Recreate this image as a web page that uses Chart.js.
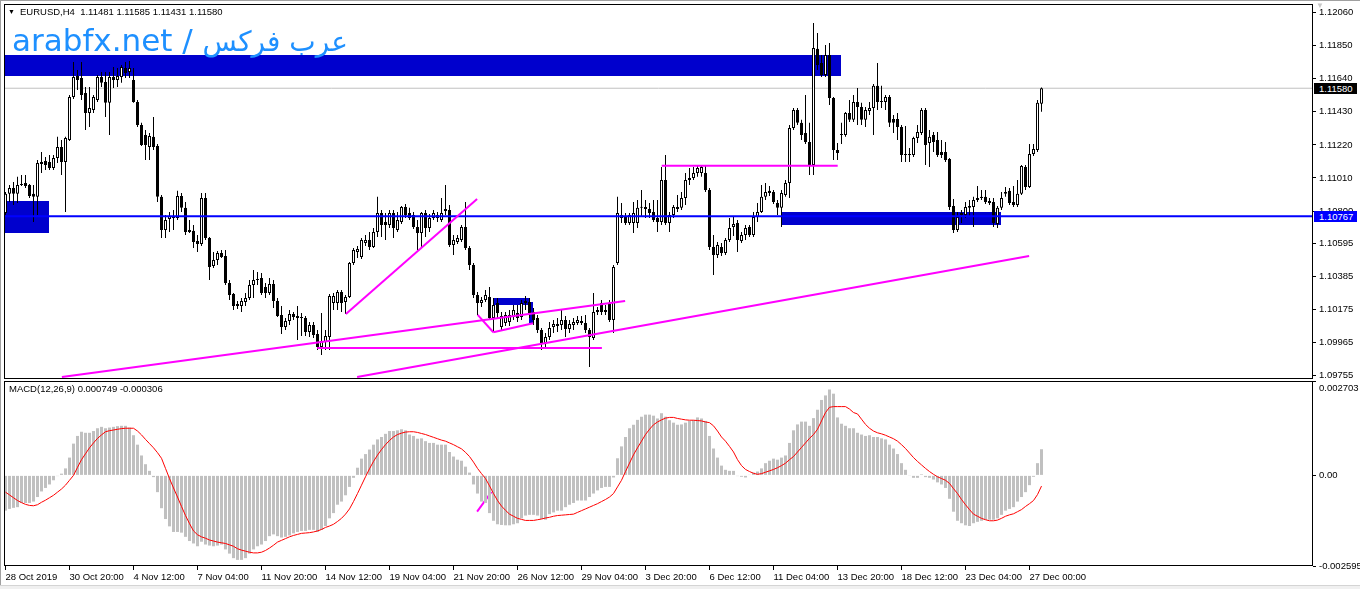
<!DOCTYPE html>
<html>
<head>
<meta charset="utf-8">
<title>EURUSD,H4</title>
<script src="https://cdn.jsdelivr.net/npm/chart.js@4.4.1/dist/chart.umd.min.js"></script>
<style>
  body { margin: 0; background: #fff; }
  #wrap { position: relative; width: 1360px; height: 589px; overflow: hidden; background: #fff; font-family: "Liberation Sans", Arial, sans-serif; }
  canvas { position: absolute; left: 0; }
  #priceChart { top: 0; }
  #macdChart { top: 380px; }
  .txt { position: absolute; white-space: pre; font-size: 9.5px; line-height: 11px; color: #000; }
  .box { position: absolute; left: 1314px; width: 38px; height: 11px; padding-left: 5px; font-size: 9.5px; line-height: 11px; color: #fff; white-space: pre; }
  #mark { position: absolute; left: 12px; top: 25px; font-family: "DejaVu Sans", sans-serif; font-size: 31px; line-height: 31px; color: #1e90ff; white-space: pre; }
  #mark span { font-size: 28px; }
</style>
</head>
<body>
<div id="wrap">
  <canvas id="priceChart" width="1360" height="381"></canvas>
  <canvas id="macdChart" width="1360" height="209"></canvas>
  <div style="position:absolute;left:0;top:0;width:1360px;height:1px;background:#a0a0a0"></div>
  <div style="position:absolute;left:0;top:0;width:1px;height:589px;background:#a0a0a0"></div>
  <div style="position:absolute;left:0;top:585px;width:1360px;height:4px;background:#f0f0f0;border-top:1px solid #d4d4d4"></div>
  <div class="txt" style="left:8px;top:6px;font-size:7px">▼</div>
  <div class="txt" style="left:20px;top:6px">EURUSD,H4  1.11481 1.11585 1.11431 1.11580</div>
  <div class="txt" style="left:1316px;top:0px;font-size:8px;color:#c8c8c8">▼</div>
  <div id="mark">arabfx.net / <span>عرب فركس</span></div>
  <div class="txt" style="left:9px;top:383px">MACD(12,26,9) 0.000749 -0.000306</div>
  <div class="box" id="boxLast" style="background:#000">1.11580</div>
  <div class="box" id="boxLevel" style="background:#0000ff">1.10767</div>
</div>

<script>
// H4 bars, 28 Oct 2019 -> 27 Dec 2019 12:00 (bar index 0..259)
const open = [1.10788,1.10909,1.10946,1.10909,1.10972,1.10978,1.10965,1.10909,1.10890,1.11111,
1.11118,1.11111,1.11073,1.11137,1.11207,1.11111,1.11251,1.11525,1.11658,1.11645,
1.11550,1.11423,1.11442,1.11506,1.11652,1.11620,1.11487,1.11652,1.11633,1.11652,
1.11709,1.11683,1.11633,1.11493,1.11347,1.11283,1.11207,1.11271,1.11213,1.10890,
1.10680,1.10750,1.10756,1.10756,1.10896,1.10820,1.10680,1.10674,1.10610,1.10591,
1.10883,1.10629,1.10451,1.10489,1.10534,1.10515,1.10343,1.10273,1.10210,1.10197,
1.10222,1.10248,1.10330,1.10368,1.10374,1.10318,1.10279,1.10337,1.10229,1.10140,
1.10063,1.10101,1.10146,1.10133,1.10127,1.10120,1.10032,1.10076,1.10019,1.09936,
1.09968,1.10000,1.10216,1.10216,1.10286,1.10222,1.10254,1.10470,1.10540,1.10508,
1.10597,1.10616,1.10572,1.10667,1.10788,1.10730,1.10711,1.10788,1.10680,1.10730,
1.10826,1.10788,1.10775,1.10699,1.10661,1.10788,1.10692,1.10756,1.10756,1.10743,
1.10813,1.10807,1.10584,1.10603,1.10616,1.10699,1.10565,1.10457,1.10267,1.10216,
1.10235,1.10254,1.10120,1.10216,1.10063,1.10089,1.10095,1.10127,1.10152,1.10127,
1.10229,1.10222,1.10159,1.10120,1.10044,1.09962,1.10000,1.10063,1.10082,1.10076,
1.10108,1.10051,1.10076,1.10089,1.10089,1.10089,1.10044,1.09994,1.10159,1.10216,
1.10171,1.10216,1.10108,1.10470,1.10775,1.10762,1.10724,1.10724,1.10724,1.10826,
1.10826,1.10813,1.10794,1.10756,1.10730,1.10997,1.10724,1.10775,1.10826,1.10820,
1.10883,1.10997,1.11010,1.11042,1.11042,1.11042,1.10934,1.10572,1.10521,1.10572,
1.10534,1.10616,1.10699,1.10724,1.10610,1.10648,1.10699,1.10648,1.10762,1.10794,
1.10890,1.10928,1.10921,1.10851,1.10820,1.10902,1.10978,1.11328,1.11442,1.11360,
1.11296,1.11239,1.11092,1.11830,1.11741,1.11664,1.11791,1.11518,1.11188,1.11290,
1.11283,1.11423,1.11379,1.11493,1.11461,1.11379,1.11436,1.11455,1.11595,1.11499,
1.11493,1.11525,1.11385,1.11385,1.11334,1.11162,1.11156,1.11156,1.11264,1.11296,
1.11442,1.11232,1.11283,1.11251,1.11175,1.11175,1.11131,1.10832,1.10680,1.10775,
1.10775,1.10820,1.10826,1.10870,1.10883,1.10890,1.10864,1.10857,1.10718,1.10820,
1.10909,1.10928,1.10857,1.10838,1.10909,1.11080,1.10953,1.11162,1.11188,1.11481];

const high = [1.10921,1.10965,1.10984,1.11017,1.11029,1.11029,1.10972,1.10965,1.11124,1.11175,
1.11143,1.11156,1.11156,1.11271,1.11251,1.11271,1.11537,1.11747,1.11696,1.11747,
1.11588,1.11588,1.11537,1.11664,1.11683,1.11683,1.11683,1.11715,1.11709,1.11728,
1.11747,1.11753,1.11709,1.11506,1.11360,1.11315,1.11296,1.11398,1.11226,1.10902,
1.10775,1.10794,1.10807,1.10928,1.10915,1.10857,1.10743,1.10711,1.10648,1.10915,
1.10915,1.10635,1.10540,1.10546,1.10553,1.10553,1.10362,1.10279,1.10229,1.10248,
1.10279,1.10362,1.10425,1.10412,1.10406,1.10343,1.10374,1.10362,1.10248,1.10197,
1.10120,1.10171,1.10159,1.10197,1.10152,1.10133,1.10095,1.10095,1.10044,1.10152,
1.10044,1.10273,1.10279,1.10298,1.10298,1.10267,1.10476,1.10565,1.10578,1.10629,
1.10648,1.10667,1.10692,1.10890,1.10807,1.10788,1.10807,1.10807,1.10794,1.10832,
1.10845,1.10820,1.10794,1.10743,1.10794,1.10807,1.10781,1.10807,1.10794,1.10883,
1.10965,1.10838,1.10648,1.10648,1.10711,1.10857,1.10578,1.10470,1.10286,1.10254,
1.10298,1.10318,1.10248,1.10248,1.10159,1.10159,1.10171,1.10203,1.10203,1.10235,
1.10260,1.10248,1.10184,1.10140,1.10057,1.10025,1.10095,1.10108,1.10120,1.10171,
1.10133,1.10108,1.10120,1.10133,1.10133,1.10140,1.10057,1.10279,1.10190,1.10235,
1.10203,1.10235,1.10457,1.10890,1.10851,1.10788,1.10788,1.10857,1.10870,1.10934,
1.10870,1.10851,1.10870,1.10870,1.11080,1.11156,1.10794,1.10838,1.10902,1.10921,
1.11042,1.11073,1.11080,1.11092,1.11092,1.11092,1.10946,1.10648,1.10603,1.10597,
1.10629,1.10756,1.10762,1.10743,1.10667,1.10711,1.10711,1.10794,1.10851,1.10965,
1.10978,1.10959,1.10934,1.10870,1.10934,1.10997,1.11347,1.11455,1.11455,1.11379,
1.11537,1.11360,1.11995,1.11931,1.11791,1.11855,1.11868,1.11525,1.11232,1.11360,
1.11429,1.11506,1.11537,1.11582,1.11487,1.11461,1.11493,1.11607,1.11741,1.11595,
1.11537,1.11537,1.11410,1.11423,1.11347,1.11340,1.11201,1.11271,1.11347,1.11455,
1.11455,1.11315,1.11302,1.11302,1.11251,1.11239,1.11137,1.10877,1.10794,1.10807,
1.10857,1.10870,1.10890,1.10959,1.10934,1.10934,1.10883,1.10883,1.10832,1.10921,
1.10953,1.10946,1.10959,1.10997,1.11092,1.11092,1.11226,1.11226,1.11506,1.11585];

const low = [1.10775,1.10857,1.10838,1.10851,1.10959,1.10946,1.10883,1.10730,1.10775,1.11042,
1.11061,1.11061,1.11061,1.11105,1.11029,1.10794,1.11245,1.11512,1.11569,1.11506,
1.11315,1.11334,1.11423,1.11493,1.11588,1.11398,1.11283,1.11582,1.11588,1.11614,
1.11645,1.11645,1.11487,1.11334,1.11213,1.11124,1.11124,1.11188,1.10857,1.10629,
1.10629,1.10667,1.10680,1.10743,1.10794,1.10648,1.10661,1.10565,1.10540,1.10578,
1.10616,1.10362,1.10438,1.10457,1.10502,1.10330,1.10235,1.10171,1.10178,1.10159,
1.10197,1.10235,1.10248,1.10330,1.10267,1.10248,1.10267,1.10184,1.10127,1.10019,
1.10044,1.10076,1.10108,1.09981,1.10006,1.10006,1.10000,1.09994,1.09917,1.09885,
1.09917,1.09917,1.10171,1.10171,1.10159,1.10146,1.10248,1.10457,1.10502,1.10495,
1.10578,1.10553,1.10565,1.10635,1.10635,1.10616,1.10692,1.10629,1.10667,1.10718,
1.10756,1.10743,1.10686,1.10553,1.10565,1.10635,1.10667,1.10743,1.10730,1.10730,
1.10775,1.10572,1.10521,1.10591,1.10603,1.10553,1.10425,1.10248,1.10140,1.10190,
1.10222,1.10108,1.10032,1.10120,1.10044,1.10070,1.10070,1.10108,1.10095,1.10108,
1.10171,1.10120,1.10076,1.10025,1.09917,1.09930,1.09981,1.10025,1.10032,1.10044,
1.10000,1.10025,1.10044,1.10076,1.10076,1.10025,1.09809,1.09981,1.10140,1.10140,
1.10140,1.10095,1.10025,1.10457,1.10724,1.10711,1.10711,1.10661,1.10692,1.10762,
1.10756,1.10756,1.10730,1.10667,1.10711,1.10711,1.10667,1.10756,1.10794,1.10807,
1.10838,1.10965,1.10997,1.11017,1.11017,1.10921,1.10553,1.10394,1.10502,1.10515,
1.10521,1.10603,1.10642,1.10540,1.10597,1.10616,1.10635,1.10635,1.10730,1.10788,
1.10870,1.10896,1.10845,1.10775,1.10699,1.10890,1.10883,1.11315,1.11347,1.11251,
1.11226,1.11029,1.11029,1.11696,1.11652,1.11652,1.11474,1.11124,1.11124,1.11226,
1.11271,1.11366,1.11366,1.11347,1.11347,1.11334,1.11410,1.11283,1.11442,1.11455,
1.11442,1.11334,1.11296,1.11251,1.11111,1.11111,1.11111,1.11143,1.11232,1.11283,
1.11092,1.11080,1.11175,1.11143,1.11137,1.11111,1.10807,1.10661,1.10667,1.10724,
1.10756,1.10762,1.10699,1.10857,1.10870,1.10845,1.10838,1.10699,1.10692,1.10807,
1.10890,1.10838,1.10826,1.10826,1.10902,1.10934,1.10946,1.11150,1.11175,1.11431];

const close = [1.10909,1.10946,1.10909,1.10965,1.10965,1.10959,1.10896,1.10890,1.11105,1.11099,
1.11092,1.11073,1.11137,1.11207,1.11111,1.11264,1.11525,1.11652,1.11633,1.11537,
1.11423,1.11455,1.11525,1.11652,1.11614,1.11487,1.11652,1.11633,1.11658,1.11715,
1.11677,1.11709,1.11493,1.11347,1.11220,1.11220,1.11277,1.11207,1.10890,1.10680,
1.10743,1.10769,1.10769,1.10896,1.10820,1.10667,1.10667,1.10603,1.10591,1.10883,
1.10629,1.10444,1.10489,1.10534,1.10508,1.10343,1.10267,1.10197,1.10197,1.10229,
1.10248,1.10330,1.10362,1.10362,1.10279,1.10279,1.10337,1.10229,1.10133,1.10063,
1.10101,1.10146,1.10127,1.10120,1.10120,1.10032,1.10076,1.10012,1.09936,1.09974,
1.10006,1.10260,1.10260,1.10286,1.10216,1.10254,1.10470,1.10553,1.10559,1.10616,
1.10616,1.10572,1.10667,1.10788,1.10711,1.10711,1.10788,1.10692,1.10743,1.10826,
1.10775,1.10756,1.10699,1.10661,1.10788,1.10692,1.10756,1.10788,1.10775,1.10788,
1.10800,1.10584,1.10616,1.10629,1.10699,1.10565,1.10457,1.10267,1.10216,1.10235,
1.10267,1.10120,1.10203,1.10152,1.10133,1.10140,1.10140,1.10171,1.10120,1.10216,
1.10216,1.10152,1.10108,1.10044,1.09962,1.10000,1.10057,1.10082,1.10070,1.10108,
1.10051,1.10082,1.10095,1.10108,1.10101,1.10044,1.10000,1.10159,1.10171,1.10159,
1.10159,1.10108,1.10444,1.10788,1.10756,1.10724,1.10775,1.10788,1.10820,1.10820,
1.10813,1.10788,1.10743,1.10730,1.10997,1.10724,1.10775,1.10826,1.10813,1.10883,
1.10997,1.11010,1.11042,1.11073,1.11080,1.10934,1.10572,1.10521,1.10584,1.10534,
1.10616,1.10692,1.10718,1.10616,1.10648,1.10692,1.10648,1.10762,1.10794,1.10890,
1.10921,1.10915,1.10857,1.10820,1.10915,1.10978,1.11328,1.11442,1.11360,1.11283,
1.11239,1.11092,1.11836,1.11728,1.11664,1.11791,1.11518,1.11188,1.11169,1.11283,
1.11423,1.11379,1.11493,1.11461,1.11379,1.11442,1.11455,1.11595,1.11493,1.11493,
1.11525,1.11360,1.11360,1.11334,1.11156,1.11156,1.11156,1.11264,1.11302,1.11442,
1.11220,1.11271,1.11239,1.11156,1.11156,1.11124,1.10826,1.10680,1.10762,1.10788,
1.10826,1.10832,1.10870,1.10883,1.10890,1.10857,1.10851,1.10724,1.10820,1.10883,
1.10921,1.10851,1.10838,1.10909,1.11086,1.10953,1.11162,1.11194,1.11487,1.11580];

// MACD(12,26,9): main line drawn as histogram, signal as red line
const macdHist = [-0.00101,-0.00096,-0.00093,-0.00091,-0.00079,-0.00079,-0.00079,-0.00075,-0.00062,-0.00046,
-0.00036,-0.00026,-0.00014,-0.00002,0.00005,0.0002,0.00051,0.00091,0.00113,0.00125,
0.00122,0.00122,0.00127,0.00135,0.00139,0.00135,0.00137,0.00139,0.00141,0.00142,
0.00142,0.00137,0.00115,0.00088,0.00057,0.00032,0.00013,-0.00005,-0.00048,-0.00094,
-0.00125,-0.00146,-0.00162,-0.00162,-0.00164,-0.00176,-0.00188,-0.00195,-0.00203,-0.0019,
-0.00198,-0.00201,-0.00203,-0.00201,-0.00198,-0.00212,-0.00224,-0.00237,-0.00242,-0.00242,
-0.00237,-0.00224,-0.00212,-0.00203,-0.00198,-0.00188,-0.00174,-0.00169,-0.00174,-0.00178,
-0.00176,-0.00172,-0.00166,-0.00162,-0.00159,-0.00159,-0.00156,-0.00156,-0.00162,-0.00156,
-0.00145,-0.00123,-0.00108,-0.00084,-0.00075,-0.00057,-0.00033,-0.00007,0.00022,0.00048,
0.00061,0.00074,0.00088,0.00103,0.0011,0.00119,0.00127,0.00127,0.00129,0.00132,
0.00129,0.00117,0.00113,0.00105,0.00106,0.00098,0.00093,0.00093,0.00088,0.00088,
0.00088,0.00067,0.00054,0.00045,0.00042,0.00025,0.00008,-0.00026,-0.00052,-0.00075,
-0.00079,-0.00108,-0.0013,-0.0014,-0.00142,-0.00143,-0.00143,-0.0014,-0.00137,-0.00123,
-0.00115,-0.00113,-0.00113,-0.00115,-0.00125,-0.00127,-0.00111,-0.00106,-0.00101,-0.00101,
-0.00091,-0.00084,-0.00079,-0.00072,-0.00072,-0.00072,-0.00062,-0.00052,-0.00043,-0.00036,
-0.00033,-0.00033,-0.00006,0.00049,0.00083,0.0011,0.00135,0.00145,0.00159,0.00168,
0.00174,0.00174,0.00171,0.00163,0.00178,0.00168,0.00158,0.00151,0.00145,0.00146,
0.00151,0.00156,0.00158,0.00166,0.00163,0.00156,0.00113,0.00077,0.00051,0.00028,
0.00016,0.00013,0.00013,-0.00002,-0.00004,-0.00006,0.00001,0.00008,0.00011,0.0002,
0.00035,0.00042,0.00048,0.00045,0.00051,0.00057,0.00093,0.00129,0.00146,0.00154,
0.00154,0.00142,0.00164,0.00188,0.00216,0.00229,0.00246,0.00234,0.00166,0.00148,
0.00142,0.00135,0.00135,0.00122,0.00117,0.00113,0.00115,0.0011,0.0011,0.00106,
0.00103,0.00088,0.00077,0.00061,0.00035,0.00016,-0.00001,-0.00007,-0.00007,0.00003,
-0.00005,-0.00007,-0.00012,-0.0002,-0.00026,-0.00036,-0.00067,-0.00104,-0.0013,-0.00137,
-0.00143,-0.00145,-0.00137,-0.00133,-0.0013,-0.00127,-0.00127,-0.00127,-0.00123,-0.00113,
-0.00101,-0.00096,-0.00091,-0.00075,-0.00062,-0.00048,-0.00028,-0.00004,0.00035,0.000749];

const macdSignal = [-0.00048,-0.00056,-0.00064,-0.00072,-0.00078,-0.00083,-0.00086,-0.00087,-0.00084,-0.00077,
-0.00071,-0.00064,-0.00057,-0.00048,-0.00039,-0.00028,-0.00014,0.0,0.00023,0.00045,
0.00062,0.00079,0.00093,0.00106,0.00116,0.00125,0.00128,0.0013,0.00132,0.00134,
0.00135,0.00135,0.00135,0.00127,0.00116,0.00103,0.00091,0.00079,0.00065,0.00049,
0.0002,-0.00009,-0.00036,-0.00062,-0.00089,-0.00115,-0.00138,-0.00159,-0.0017,-0.00176,
-0.0018,-0.00185,-0.00188,-0.00191,-0.00193,-0.00195,-0.00199,-0.00203,-0.0021,-0.00214,
-0.00217,-0.0022,-0.00222,-0.00222,-0.0022,-0.00215,-0.00208,-0.002,-0.00191,-0.00186,
-0.00181,-0.00176,-0.00172,-0.00169,-0.00166,-0.00165,-0.00164,-0.00162,-0.00159,-0.00155,
-0.00149,-0.00145,-0.0014,-0.00132,-0.00123,-0.00111,-0.00096,-0.00075,-0.00052,-0.00028,
-0.00004,0.00019,0.0004,0.00058,0.00074,0.00088,0.001,0.0011,0.00117,0.00121,
0.00124,0.00125,0.00125,0.00123,0.0012,0.00117,0.00113,0.00109,0.00105,0.00101,
0.00098,0.00093,0.00088,0.00082,0.00076,0.00066,0.00054,0.00038,0.0002,0.00005,
-0.00009,-0.0003,-0.00052,-0.00072,-0.00088,-0.001,-0.00111,-0.00117,-0.00123,-0.00126,
-0.00129,-0.00129,-0.00129,-0.00127,-0.00125,-0.00122,-0.0012,-0.00117,-0.00115,-0.00114,
-0.00113,-0.00112,-0.00111,-0.00106,-0.00101,-0.00096,-0.00091,-0.00086,-0.00081,-0.00075,
-0.00069,-0.00062,-0.00052,-0.00033,-0.00014,0.00011,0.00035,0.00059,0.00079,0.00098,
0.00117,0.00132,0.00145,0.00153,0.00159,0.00164,0.00166,0.00166,0.00163,0.00161,
0.00159,0.00158,0.00158,0.00157,0.00156,0.00153,0.00151,0.00142,0.00127,0.0011,
0.00098,0.00083,0.00067,0.00045,0.00028,0.00017,0.00011,0.00006,0.00003,0.00005,
0.00009,0.00013,0.00017,0.00022,0.00028,0.00035,0.00045,0.00054,0.00067,0.0008,
0.00093,0.00106,0.00117,0.00132,0.00156,0.0018,0.00195,0.00197,0.00197,0.00197,
0.00197,0.0019,0.0018,0.00176,0.00161,0.00146,0.00135,0.00127,0.00122,0.00119,
0.00115,0.0011,0.00105,0.00098,0.00088,0.00077,0.00064,0.00051,0.0004,0.0003,
0.0002,0.00011,0.00003,-0.00004,-0.00009,-0.00014,-0.00023,-0.00038,-0.00052,-0.00069,
-0.00084,-0.00098,-0.00111,-0.00117,-0.00123,-0.00127,-0.0013,-0.0013,-0.00128,-0.00123,
-0.00117,-0.00113,-0.0011,-0.00104,-0.00098,-0.00089,-0.00081,-0.00072,-0.00055,-0.000306];

const timeLabels = ['28 Oct 2019', '30 Oct 20:00', '4 Nov 12:00', '7 Nov 04:00', '11 Nov 20:00', '14 Nov 12:00',
  '19 Nov 04:00', '21 Nov 20:00', '26 Nov 12:00', '29 Nov 04:00', '3 Dec 20:00', '6 Dec 12:00',
  '11 Dec 04:00', '13 Dec 20:00', '18 Dec 12:00', '23 Dec 04:00', '27 Dec 00:00'];
const timeLabelBars = [0, 16, 32, 48, 64, 80, 96, 112, 128, 144, 160, 176, 192, 208, 224, 240, 256];

const priceTicks = [1.12060, 1.11850, 1.11640, 1.11430, 1.11220, 1.11010, 1.10800, 1.10595, 1.10385, 1.10175, 1.09965, 1.09755];
const macdTicks = [-0.002595, 0, 0.002703];
const macdTickText = [['-0.002595'], ['0.00'], ['', '0.002703']];

const lastPrice = 1.11580;
const levelPrice = 1.10767;

// chart objects: [barFrom, barTo, priceTop, priceBottom]
const zones = [
  [-1, 208.8, 1.11792, 1.11658],
  [-1, 10.9, 1.10864, 1.10661],
  [193.9, 248.8, 1.10794, 1.10711],
  [121.8, 130.9, 1.10248, 1.10203],
  [130.9, 131.95, 1.10224, 1.10087]
];
// trend lines: [bar1, price1, bar2, price2]
const trendLines = [
  [14.1, 1.09746, 154.9, 1.10228],
  [87.9, 1.09746, 255.9, 1.10514],
  [77.9, 1.09930, 149.1, 1.09930],
  [85.1, 1.10146, 117.9, 1.10877],
  [118.05, 1.10140, 121.95, 1.10030],
  [121.95, 1.10030, 131.9, 1.10087],
  [164.05, 1.11088, 208.05, 1.11088]
];
const macdMarkLine = [117.9, -0.00104, 121.5, -0.00047];

// visible window
const xMin = -0.375, xMax = 326.875;
const priceMin = 1.09733, priceMax = 1.12115;
const macdMin = -0.002595, macdMax = 0.002703;

Chart.defaults.font.family = 'Liberation Sans';
const axisFont = { family: 'Liberation Sans', size: 9.5 };

const bars = close.map((_, i) => i);

const framePlugin = {
  id: 'frame',
  afterDraw(chart) {
    const { ctx, chartArea: a } = chart;
    ctx.save();
    ctx.strokeStyle = '#000';
    ctx.lineWidth = 1;
    ctx.strokeRect(a.left + 0.5, a.top + 0.5, a.right - a.left - 1, a.bottom - a.top - 1);
    ctx.restore();
  }
};

const zonePlugin = {
  id: 'zones',
  beforeDatasetsDraw(chart) {
    const { ctx, chartArea: a, scales: { x, y } } = chart;
    ctx.save();
    ctx.beginPath();
    ctx.rect(a.left, a.top, a.right - a.left, a.bottom - a.top);
    ctx.clip();
    ctx.fillStyle = '#0000cd';
    zones.forEach(z => {
      const x1 = Math.round(x.getPixelForValue(z[0])), x2 = Math.round(x.getPixelForValue(z[1]));
      const y1 = Math.round(y.getPixelForValue(z[2])), y2 = Math.round(y.getPixelForValue(z[3]));
      ctx.fillRect(x1, y1, x2 - x1, y2 - y1);
    });
    ctx.restore();
  }
};

function flatLine(value, color, width, order) {
  return {
    type: 'line', order: order,
    data: [{ x: xMin, y: value }, { x: xMax, y: value }],
    borderColor: color, borderWidth: width, pointRadius: 0
  };
}

const priceDatasets = [
  flatLine(lastPrice, '#c0c0c0', 1, 6),
  {
    type: 'bar', order: 5, grouped: false,
    data: bars.map(i => ({ x: i, y: [low[i], high[i]] })),
    backgroundColor: '#000', barThickness: 1, inflateAmount: 0
  },
  {
    type: 'bar', order: 4, grouped: false,
    data: bars.map(i => ({ x: i, y: [Math.min(open[i], close[i]), Math.max(open[i], close[i])] })),
    backgroundColor: bars.map(i => close[i] >= open[i] ? '#fff' : '#000'),
    borderColor: '#000', borderWidth: 1, borderSkipped: false,
    barThickness: 3, minBarLength: 1, inflateAmount: 0
  },
  flatLine(levelPrice, '#0000ff', 2, 1)
];
trendLines.forEach(t => priceDatasets.push({
  type: 'line', order: 0,
  data: [{ x: t[0], y: t[1] }, { x: t[2], y: t[3] }],
  borderColor: '#ff00ff', borderWidth: 2, pointRadius: 0
}));

const priceChart = new Chart(document.getElementById('priceChart'), {
  type: 'bar',
  data: { datasets: priceDatasets },
  options: {
    responsive: false, animation: false, events: [],
    layout: { padding: { left: 4, top: 4, right: 0, bottom: 2 } },
    plugins: { legend: { display: false }, tooltip: { enabled: false } },
    scales: {
      x: { type: 'linear', min: xMin, max: xMax, display: false, offset: false },
      y: {
        position: 'right', min: priceMin, max: priceMax,
        afterFit: s => { s.width = 47; s.paddingTop = 0; s.paddingBottom = 0; },
        afterBuildTicks: s => { s.ticks = priceTicks.map(v => ({ value: v })); },
        grid: { drawOnChartArea: false, drawTicks: true, tickLength: 3, color: '#000' },
        border: { display: false },
        ticks: { color: '#000', font: axisFont, padding: 3, autoSkip: false, callback: v => v.toFixed(5) }
      }
    }
  },
  plugins: [zonePlugin, framePlugin]
});

const macdChart = new Chart(document.getElementById('macdChart'), {
  type: 'bar',
  data: {
    datasets: [
      {
        type: 'line', order: 1,
        data: bars.map(i => ({ x: i, y: macdSignal[i] })),
        borderColor: '#ff0000', borderWidth: 1, pointRadius: 0
      },
      {
        type: 'bar', order: 2, grouped: false,
        data: bars.map(i => ({ x: i, y: macdHist[i] })),
        backgroundColor: '#c0c0c0', barThickness: 3, inflateAmount: 0
      },
      {
        type: 'line', order: 3,
        data: [{ x: macdMarkLine[0], y: macdMarkLine[1] }, { x: macdMarkLine[2], y: macdMarkLine[3] }],
        borderColor: '#ff00ff', borderWidth: 2, pointRadius: 0
      }
    ]
  },
  options: {
    responsive: false, animation: false, events: [],
    layout: { padding: { left: 4, top: 1, right: 0, bottom: 0 } },
    plugins: { legend: { display: false }, tooltip: { enabled: false } },
    scales: {
      x: {
        type: 'linear', min: xMin, max: xMax, offset: false,
        afterFit: s => { s.height = 23; s.paddingLeft = 0; s.paddingRight = 0; },
        afterBuildTicks: s => { s.ticks = timeLabelBars.map(v => ({ value: v })); },
        grid: { drawOnChartArea: false, drawTicks: true, tickLength: 4, color: '#000', offset: false },
        border: { display: false },
        ticks: { color: '#000', font: axisFont, padding: 2, autoSkip: false, maxRotation: 0, align: 'start',
                 callback: (v, i) => timeLabels[i] }
      },
      y: {
        position: 'right', min: macdMin, max: macdMax,
        afterFit: s => { s.width = 47; s.paddingTop = 0; s.paddingBottom = 0; },
        afterBuildTicks: s => { s.ticks = macdTicks.map(v => ({ value: v })); },
        grid: { drawOnChartArea: false, drawTicks: true, tickLength: 3, color: '#000' },
        border: { display: false },
        ticks: { color: '#000', font: { family: 'Liberation Sans', size: 9.5, lineHeight: 1.6 }, padding: 3,
                 autoSkip: false, callback: (v, i) => macdTickText[i] }
      }
    }
  },
  plugins: [framePlugin]
});

// price tags on the right axis
const ys = priceChart.scales.y;
document.getElementById('boxLast').style.top = (ys.getPixelForValue(lastPrice) - 5.5) + 'px';
document.getElementById('boxLevel').style.top = (ys.getPixelForValue(levelPrice) - 5.5) + 'px';
</script>
</body>
</html>
